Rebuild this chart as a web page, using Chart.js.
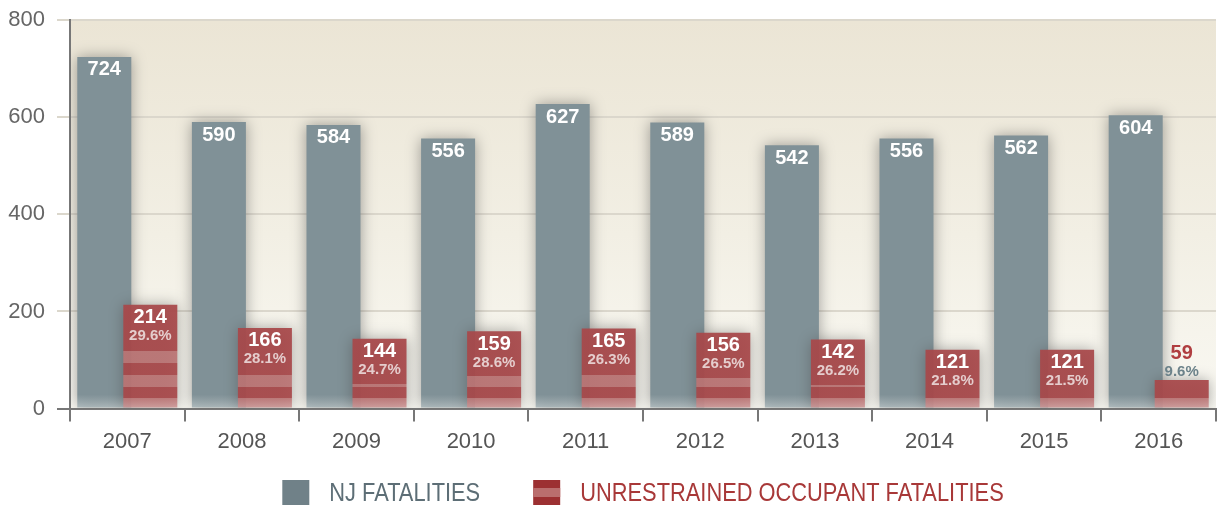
<!DOCTYPE html>
<html>
<head>
<meta charset="utf-8">
<script src="https://cdn.jsdelivr.net/npm/chart.js@4.4.1/dist/chart.umd.min.js"></script>
<style>
  body { margin: 0; background: #fff; }
</style>
</head>
<body>
<canvas id="fatalChart" width="1222" height="505"></canvas>
<script>
// values
var years = ['2007', '2008', '2009', '2010', '2011', '2012', '2013', '2014', '2015', '2016'];
var njFatalities = [724, 590, 584, 556, 627, 589, 542, 556, 562, 604];
var unrestrainedFatalities = [214, 166, 144, 159, 165, 156, 142, 121, 121, 59];
var unrestrainedShare = ['29.6%', '28.1%', '24.7%', '28.6%', '26.3%', '26.5%', '26.2%', '21.8%', '21.5%', '9.6%'];
var seriesNames = ['NJ FATALITIES', 'UNRESTRAINED OCCUPANT FATALITIES'];

var SANS = "'Liberation Sans', Arial, sans-serif";

var GRAY = 'rgb(128,145,151)';
var RED = 'rgba(168,72,74,0.93)';
var RED_LIGHT = 'rgba(187,116,116,0.93)';
var RED_FADE = 'rgba(205,150,150,0.85)';

// gray bars: solid, softened at the very bottom
function grayFill(c) {
  var chart = c.chart;
  if (!chart.chartArea || c.raw == null) return GRAY;
  var y = chart.scales.y;
  var top = y.getPixelForValue(c.raw);
  var bottom = y.getPixelForValue(0);
  var g = chart.ctx.createLinearGradient(0, top, 0, bottom);
  var h = bottom - top;
  g.addColorStop(0, GRAY);
  g.addColorStop(Math.max(0, (h - 14) / h), GRAY);
  g.addColorStop(1, 'rgba(160,175,180,0.75)');
  return g;
}

// red bars: solid label area, then bands near the base
function redFill(c) {
  var chart = c.chart;
  if (!chart.chartArea || c.raw == null) return RED;
  var y = chart.scales.y;
  var top = y.getPixelForValue(c.raw);
  var bottom = y.getPixelForValue(0);
  var h = bottom - top;
  var solid = Math.min(45, h - 11);
  var bands = [[58, 46, RED_LIGHT], [46, 34, RED], [34, 22, RED_LIGHT], [22, 11, RED]];
  var g = chart.ctx.createLinearGradient(0, top, 0, bottom);
  var off = function (py) { return Math.min(1, Math.max(0, (py - top) / h)); };
  g.addColorStop(0, RED);
  bands.forEach(function (b) {
    var y0 = Math.max(bottom - b[0], top + solid);
    var y1 = bottom - b[1];
    if (y1 <= y0) return;
    g.addColorStop(off(y0), RED);
    g.addColorStop(off(y0), b[2]);
    g.addColorStop(off(y1), b[2]);
    g.addColorStop(off(y1), RED);
  });
  g.addColorStop(off(bottom - 11), RED);
  g.addColorStop(off(bottom - 11), RED_LIGHT);
  g.addColorStop(1, RED_FADE);
  return g;
}

// narrow-looking text: regular sans squeezed horizontally
var SQUEEZE = 0.84;
function narrowText(ctx, text, x, y) {
  ctx.save();
  ctx.translate(x, y);
  ctx.scale(SQUEEZE, 1);
  ctx.fillText(text, 0, 0);
  ctx.restore();
}

var chartDecor = {
  id: 'chartDecor',
  beforeDraw: function (chart) {
    var a = chart.chartArea, ctx = chart.ctx;
    var g = ctx.createLinearGradient(0, a.top, 0, a.bottom);
    g.addColorStop(0, '#ebe5d5');
    g.addColorStop(0.55, '#f2efe4');
    g.addColorStop(1, '#f9f8f2');
    ctx.save();
    ctx.fillStyle = g;
    ctx.fillRect(a.left, a.top, a.right - a.left, a.bottom - a.top);
    ctx.restore();
  },
  beforeDatasetsDraw: function (chart) {
    var ctx = chart.ctx;
    ctx.save();
    ctx.shadowColor = 'rgba(70,70,70,0.5)';
    ctx.shadowBlur = 14;
  },
  beforeDatasetDraw: function (chart, args) {
    // red series is drawn afterwards so it sits over the gray one
    if (args.index === 1) return false;
  },
  afterDatasetsDraw: function (chart) {
    var ctx = chart.ctx, a = chart.chartArea;
    ctx.save();
    ctx.beginPath();
    ctx.rect(a.left, a.top - 20, a.right - a.left, a.bottom - a.top + 20);
    ctx.clip();
    chart.getDatasetMeta(1).controller.draw();
    ctx.restore();
    ctx.restore();

    // value labels
    var gray = chart.getDatasetMeta(0).data;
    var red = chart.getDatasetMeta(1).data;
    ctx.save();
    ctx.textAlign = 'center';
    ctx.textBaseline = 'middle';
    gray.forEach(function (bar, i) {
      ctx.font = 'bold 20px ' + SANS;
      ctx.fillStyle = '#ffffff';
      ctx.fillText(njFatalities[i], bar.x, bar.y + 13);
    });
    red.forEach(function (bar, i) {
      var h = bar.base - bar.y;
      if (h >= 45) {
        ctx.font = 'bold 20px ' + SANS;
        ctx.fillStyle = '#ffffff';
        ctx.fillText(unrestrainedFatalities[i], bar.x, bar.y + 13);
        ctx.font = 'bold 15px ' + SANS;
        ctx.fillStyle = 'rgba(232,212,212,0.95)';
        ctx.fillText(unrestrainedShare[i], bar.x, bar.y + 31);
      } else {
        ctx.font = 'bold 20px ' + SANS;
        ctx.fillStyle = 'rgb(176,62,64)';
        ctx.fillText(unrestrainedFatalities[i], bar.x, bar.y - 26);
        ctx.font = 'bold 15px ' + SANS;
        ctx.fillStyle = 'rgb(108,130,138)';
        ctx.fillText(unrestrainedShare[i], bar.x, bar.y - 8);
      }
    });
    ctx.restore();
  },
  afterDraw: function (chart) {
    // legend under the axis, centred on the plot area
    var ctx = chart.ctx, a = chart.chartArea;
    var boxW = 27, boxH = 25, gapText = 20, gapItem = 53;
    var top = chart.height - 25;
    ctx.save();
    ctx.font = '26px ' + SANS;
    ctx.textBaseline = 'middle';
    var w0 = ctx.measureText(seriesNames[0]).width * SQUEEZE;
    var w1 = ctx.measureText(seriesNames[1]).width * SQUEEZE;
    var total = boxW + gapText + w0 + gapItem + boxW + gapText + w1;
    var x = (a.left + a.right) / 2 - total / 2;
    ctx.fillStyle = 'rgb(112,129,136)';
    ctx.fillRect(x, top, boxW, boxH);
    ctx.fillStyle = '#5d6e76';
    narrowText(ctx, seriesNames[0], x + boxW + gapText, top + boxH / 2 + 1);
    x += boxW + gapText + w0 + gapItem;
    ctx.fillStyle = 'rgb(156,48,50)';
    ctx.fillRect(x, top, boxW, boxH);
    ctx.fillStyle = 'rgb(186,110,110)';
    ctx.fillRect(x, top + 8, boxW, 9);
    ctx.fillStyle = '#a83838';
    narrowText(ctx, seriesNames[1], x + boxW + gapText, top + boxH / 2 + 1);
    ctx.restore();
  }
};

var canvas = document.getElementById('fatalChart');

var fatalChart = new Chart(canvas, {
  type: 'bar',
  data: {
    labels: years,
    datasets: [{
      label: seriesNames[0],
      data: njFatalities,
      backgroundColor: grayFill,
      borderWidth: 0
    }, {
      label: seriesNames[1],
      data: unrestrainedFatalities,
      backgroundColor: redFill,
      borderWidth: 0
    }]
  },
  options: {
    responsive: false,
    maintainAspectRatio: false,
    animation: false,
    categoryPercentage: 0.803,
    barPercentage: 1.174,
    layout: {
      padding: { left: 8, right: 6, top: 0, bottom: 43 }
    },
    scales: {
      x: {
        grid: {
          offset: true,
          drawOnChartArea: false,
          color: '#777',
          lineWidth: 2,
          tickLength: 13
        },
        border: { color: '#777', width: 2 },
        ticks: {
          color: '#555',
          font: { family: SANS, size: 22 },
          padding: 7
        }
      },
      y: {
        min: 0,
        max: 800,
        afterFit: function (scale) {
          scale.width = 62;
          scale.paddingTop = 20;
        },
        ticks: {
          stepSize: 200,
          color: '#666',
          font: { family: SANS, size: 22 },
          padding: 12
        },
        grid: {
          color: function (c) { return c.tick && c.tick.value === 0 ? '#777' : '#dbd7cc'; },
          lineWidth: 2,
          tickLength: 13
        },
        border: { color: '#777', width: 2 }
      }
    },
    plugins: {
      legend: { display: false },
      tooltip: { enabled: false }
    }
  },
  plugins: [chartDecor]
});
</script>
</body>
</html>
